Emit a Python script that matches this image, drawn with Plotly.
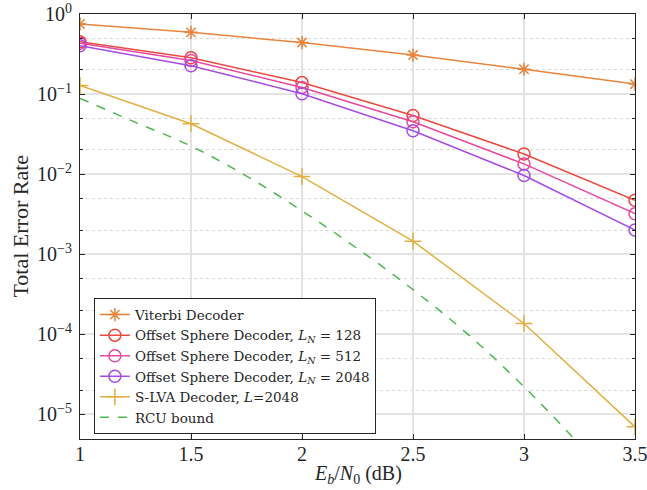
import plotly.graph_objects as go

snr = [1.0, 1.5, 2.0, 2.5, 3.0, 3.5]
viterbi = [0.75, 0.59, 0.44, 0.307, 0.204, 0.133]
osd_128 = [0.45, 0.284, 0.139, 0.054, 0.0178, 0.0047]
osd_512 = [0.43, 0.262, 0.121, 0.045, 0.0134, 0.0032]
osd_2048 = [0.40, 0.226, 0.101, 0.0348, 0.0096, 0.0020]
slva = [0.128, 0.0426, 0.0093, 0.00145, 1.36e-4, 6.95e-6]
rcu_snr = [1.0, 1.25, 1.5, 1.75, 2.0, 2.25, 2.5, 2.75, 3.0, 3.25]
rcu = [0.0883, 0.0443, 0.0224, 0.00944, 0.00347, 0.00117, 3.6e-4, 9.8e-5, 2.2e-5, 4.2e-6]

ytickvals = [1e-5, 1e-4, 1e-3, 1e-2, 1e-1, 1]
yticktext = ["10<sup>−5</sup>", "10<sup>−4</sup>", "10<sup>−3</sup>", "10<sup>−2</sup>", "10<sup>−1</sup>", "10<sup>0</sup>"]
xtickvals = [1, 1.5, 2, 2.5, 3, 3.5]
xticktext = ["1", "1.5", "2", "2.5", "3", "3.5"]

FONT = "Liberation Serif"
LFONT = "DejaVu Serif"
INK = "#262626"

fig = go.Figure()
fig.add_trace(go.Scatter(x=snr, y=viterbi, name="Viterbi Decoder", mode="lines+markers",
                         line=dict(color="#E8843C", width=1.5),
                         marker=dict(symbol="asterisk-open", size=11, line=dict(color="#E8843C", width=1.5))))
fig.add_trace(go.Scatter(x=snr, y=osd_128, name="Offset Sphere Decoder, <i>L</i><sub><i>N</i></sub>&nbsp;=&nbsp;128",
                         mode="lines+markers", line=dict(color="#E84A3F", width=1.5),
                         marker=dict(symbol="circle-open", size=12, line=dict(color="#E84A3F", width=1.5))))
fig.add_trace(go.Scatter(x=snr, y=osd_512, name="Offset Sphere Decoder, <i>L</i><sub><i>N</i></sub>&nbsp;=&nbsp;512",
                         mode="lines+markers", line=dict(color="#E8489F", width=1.5),
                         marker=dict(symbol="circle-open", size=12, line=dict(color="#E8489F", width=1.5))))
fig.add_trace(go.Scatter(x=snr, y=osd_2048, name="Offset Sphere Decoder, <i>L</i><sub><i>N</i></sub>&nbsp;=&nbsp;2048",
                         mode="lines+markers", line=dict(color="#A64BE3", width=1.5),
                         marker=dict(symbol="circle-open", size=12, line=dict(color="#A64BE3", width=1.5))))
fig.add_trace(go.Scatter(x=snr, y=slva, name="S-LVA Decoder, <i>L</i>=2048",
                         mode="lines+markers", line=dict(color="#E3AF42", width=1.5),
                         marker=dict(symbol="cross-thin-open", size=12, line=dict(color="#E3AF42", width=1.5))))
fig.add_trace(go.Scatter(x=rcu_snr, y=rcu, name="RCU bound", mode="lines",
                         line=dict(color="#4CB84C", width=1.5, dash="dash", shape="spline")))

fig.update_layout(
    width=647, height=490,
    margin=dict(l=80, r=12, t=14, b=51),
    paper_bgcolor="white", plot_bgcolor="white",
    font=dict(family=FONT, size=16, color=INK),
    showlegend=True,
    legend=dict(x=0.025, y=0.331, xanchor="left", yanchor="top",
                bgcolor="white", bordercolor=INK, borderwidth=1,
                font=dict(family=LFONT, size=13.5, color=INK),
                tracegroupgap=0, itemwidth=30),
    annotations=[
        dict(text="<i>E</i><sub><i>b</i></sub>/<i>N</i><sub>0</sub> (dB)", xref="paper", yref="paper",
             x=0.5, y=-0.083, xanchor="center", yanchor="middle", showarrow=False,
             font=dict(family=FONT, size=20, color=INK)),
        dict(text="Total Error Rate", xref="paper", yref="paper",
             x=-0.108, y=0.5, xanchor="center", yanchor="middle", showarrow=False, textangle=-90,
             font=dict(family=FONT, size=22, color=INK)),
    ],
)
fig.update_xaxes(
    range=[1, 3.5], tickvals=xtickvals, ticktext=xticktext, automargin=False,
    showgrid=True, gridcolor="#E3E3E3", gridwidth=1.5,
    showline=True, linecolor=INK, linewidth=1, mirror="allticks",
    ticks="inside", ticklen=5, tickcolor=INK,
    tickfont=dict(family=FONT, size=20), ticklabelstandoff=-3, ticklabeloverflow="allow",
    zeroline=False,
)
fig.update_yaxes(
    type="log", range=[-5.31, 0], tickvals=ytickvals, ticktext=yticktext, automargin=False,
    showgrid=True, gridcolor="#E3E3E3", gridwidth=1.5,
    showline=True, linecolor=INK, linewidth=1, mirror="allticks",
    ticks="inside", ticklen=5, tickcolor=INK,
    tickfont=dict(family=FONT, size=20), ticklabelstandoff=3, ticklabeloverflow="allow",
    minor=dict(showgrid=True, gridcolor="#D9D9D9", griddash="dot", gridwidth=1,
               ticks="inside", ticklen=3, tickcolor=INK),
    zeroline=False,
)

fig.write_html("out.html")
